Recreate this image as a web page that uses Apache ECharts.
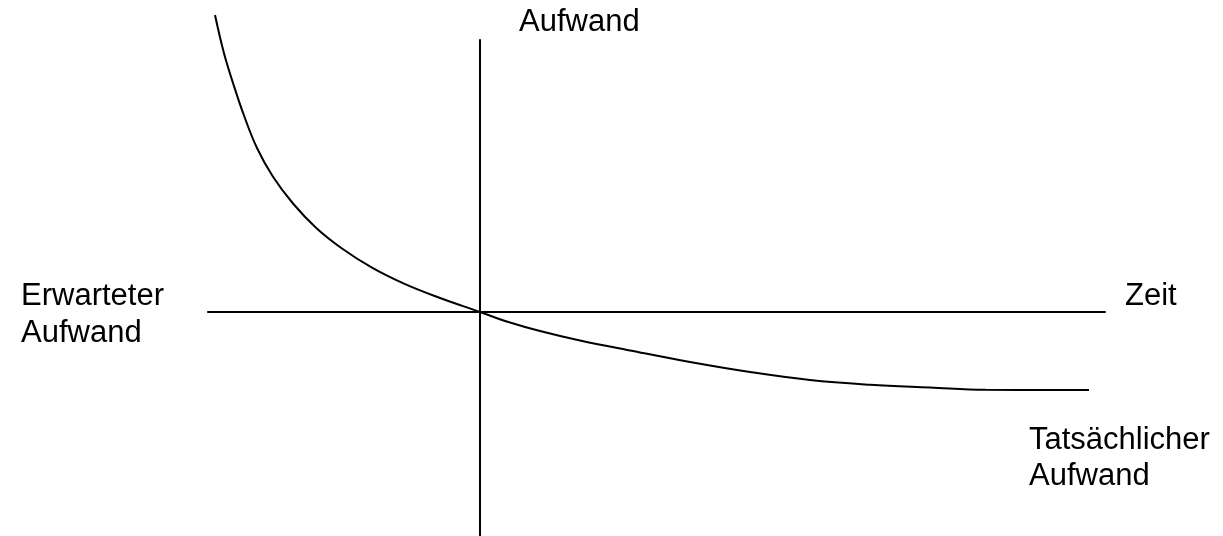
<!DOCTYPE html>
<html>
<head>
<meta charset="utf-8">
<script src="https://cdn.jsdelivr.net/npm/echarts@6.0.0/dist/echarts.min.js"></script>
<style>
  html, body { margin: 0; padding: 0; background: #fff; }
  #chart { width: 1223px; height: 536px; }
</style>
</head>
<body>
<div id="chart"></div>
<script>
// Zeit (x) und Aufwand (y) relativ zum Achsenkreuz
const timeValues = [-26.5, -25.6, -24.7, -23.6, -22.3, -20.7, -18.7, -16.4, -13.8, -10.8, -7.6, -4.2, 0,
  3.0, 6.0, 10.0, 15.0, 21.0, 27.0, 33.0, 39.0, 45.0, 50.6, 60.9];
const effortValues = [29.7, 25.87, 22.9, 19.65, 16.4, 13.52, 10.85, 8.43, 6.35, 4.43, 2.83, 1.47, 0,
  -1.05, -1.9, -2.85, -3.85, -5.0, -6.0, -6.8, -7.27, -7.55, -7.78, -7.8];

const xRange = [-27.2, 62.5];
const yRange = [-22.4, 27.2];

const FONT = '"Liberation Sans", Arial, sans-serif';

const chart = echarts.init(document.getElementById('chart'));

const option = {
  backgroundColor: '#fff',
  animation: false,
  grid: { left: 208, right: 118, top: 40, bottom: 0, containLabel: false },
  xAxis: {
    type: 'value',
    min: xRange[0],
    max: xRange[1],
    name: 'Zeit',
    nameLocation: 'end',
    nameGap: 20,
    nameTextStyle: {
      fontSize: 31, fontFamily: FONT, color: '#000',
      align: 'left', verticalAlign: 'bottom'
    },
    axisLine: { onZero: true, lineStyle: { color: '#000', width: 2 } },
    axisTick: { show: false },
    axisLabel: { show: false },
    splitLine: { show: false }
  },
  yAxis: {
    type: 'value',
    min: yRange[0],
    max: yRange[1],
    name: 'Aufwand',
    nameLocation: 'end',
    nameGap: 2,
    nameTextStyle: {
      fontSize: 31, fontFamily: FONT, color: '#000',
      align: 'left', verticalAlign: 'bottom',
      padding: [0, 0, 0, 39]
    },
    axisLine: { onZero: true, lineStyle: { color: '#000', width: 2 } },
    axisTick: { show: false },
    axisLabel: { show: false },
    splitLine: { show: false }
  },
  series: [{
    type: 'line',
    data: timeValues.map((t, i) => [t, effortValues[i]]),
    symbol: 'none',
    smooth: 0.4,
    clip: false,
    silent: true,
    lineStyle: { color: '#000', width: 2 }
  }],
  graphic: [
    {
      type: 'text',
      left: 21,
      top: 278,
      style: {
        text: 'Erwarteter\nAufwand',
        fontSize: 31, fontFamily: FONT, lineHeight: 37, fill: '#000'
      }
    },
    {
      type: 'text',
      left: 1029,
      top: 422,
      style: {
        text: 'Tatsächlicher\nAufwand',
        fontSize: 31, fontFamily: FONT, lineHeight: 36, fill: '#000'
      }
    }
  ]
};

chart.setOption(option);
window.addEventListener('resize', () => chart.resize());
</script>
</body>
</html>
